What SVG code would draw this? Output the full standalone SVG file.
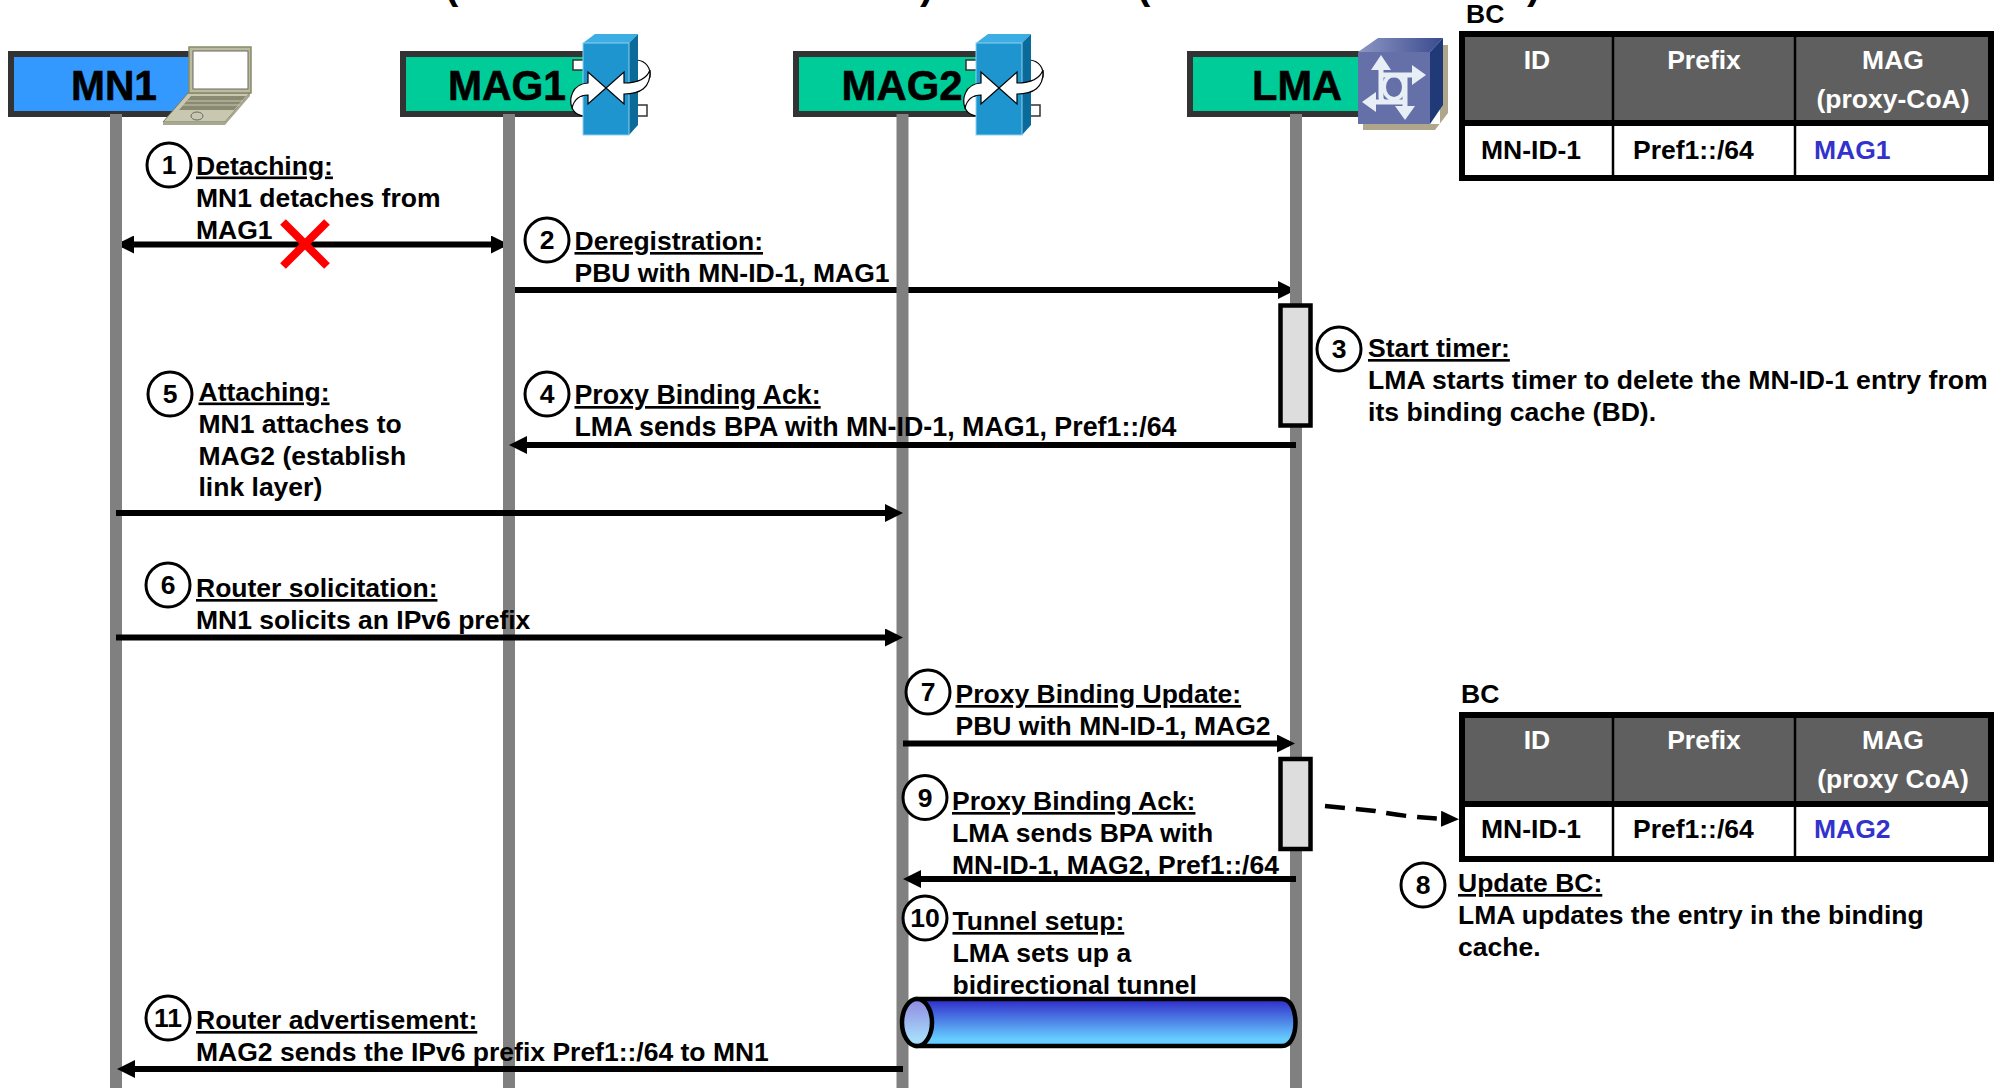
<svg xmlns="http://www.w3.org/2000/svg" xmlns:xlink="http://www.w3.org/1999/xlink" width="1995" height="1088" viewBox="0 0 1995 1088">
<style>
text{font-family:"Liberation Sans",Arial,sans-serif;font-weight:bold;fill:#000}
.b{font-size:26.5px}
.u{text-decoration:underline}
.n{font-size:26.5px;text-anchor:middle}
.h{font-size:43px;text-anchor:middle;stroke:#000;stroke-width:0.6px}
.th{font-size:26.5px;text-anchor:middle;fill:#fff}
.td{font-size:26.5px}
.mag{fill:#3333cc}
.c{fill:#fff;stroke:#000;stroke-width:3}
.life{stroke:#808080;stroke-width:12}
.hdr{stroke:#333;stroke-width:6}
.ar{stroke:#000;stroke-width:6;fill:none}
.act{fill:#ddd;stroke:#000;stroke-width:4.500}
.tline{stroke:#000;fill:none}
.par{font-size:40px}
</style>
<defs>
<marker id="ah" viewBox="0 0 18 18" refX="12" refY="9" markerWidth="18" markerHeight="18" markerUnits="userSpaceOnUse" orient="auto-start-reverse"><path d="M0 0L18 9L0 18Z" fill="#000"/></marker>
<marker id="ahs" viewBox="0 0 18 16" refX="12" refY="8" markerWidth="18" markerHeight="16" markerUnits="userSpaceOnUse" orient="auto"><path d="M0 0L18 8L0 16Z" fill="#000"/></marker>
<linearGradient id="tun" x1="0" y1="0" x2="0" y2="1"><stop offset="0.05" stop-color="#3333cc"/><stop offset="0.85" stop-color="#66ccff"/></linearGradient>
<linearGradient id="tune" x1="0" y1="0" x2="0" y2="1"><stop offset="0" stop-color="#8f88e0"/><stop offset="0.85" stop-color="#a6dcfa"/></linearGradient>
<linearGradient id="lmat" x1="0" y1="0" x2="1" y2="0"><stop offset="0" stop-color="#8d97c4"/><stop offset="1" stop-color="#3a4a8e"/></linearGradient>
<g id="sw">
<rect x="573" y="60" width="12" height="10" fill="#fff" stroke="#333" stroke-width="1.500"/>
<rect x="636" y="105" width="11" height="11" fill="#fff" stroke="#333" stroke-width="1.500"/>
<path d="M572 100C570 108 574 115 584 116L584 96C578 96 574 97 572 100Z" fill="#fff" stroke="#000" stroke-width="1.200"/>
<path d="M650 77C651 68 646 61 637 60L637 83C644 83 648 81 650 77Z" fill="#fff" stroke="#000" stroke-width="1.200"/>
<path d="M583 43L595 34L638 34L629 43Z" fill="#3daee3"/>
<path d="M629 43L638 34L638 125L629 135Z" fill="#0a6a9a"/>
<rect x="583" y="43" width="46" height="92" fill="#1f95d0" stroke="#8fd0ee" stroke-width="1"/>
<path d="M606 88L588 104L588 95C578 95 574 100 572 108C569 100 571 84 588 83L588 72Z" fill="#fff" stroke="#000" stroke-width="1.200"/>
<path d="M606 88L624 104L624 94C640 94 651 88 650 70C647 78 640 83 624 83L624 72Z" fill="#fff" stroke="#000" stroke-width="1.200"/>
</g>
</defs>

<text class="par" x="445" y="-1">(</text>
<text class="par" x="920" y="-1">)</text>
<text class="par" x="1137" y="-1">(</text>
<text class="par" x="1527" y="-1">)</text>

<g id="node-mn1">
<rect class="hdr" x="11" y="54" width="190" height="60" fill="#3399ff"/>
<text class="h" x="114" y="100" textLength="86" lengthAdjust="spacingAndGlyphs">MN1</text>
<path d="M163 122L188 93L250 93L225 122Z" fill="#c8c8b0" stroke="#77775f" stroke-width="1"/>
<path d="M163 122L225 122L225 125L163 125Z" fill="#a8a890"/>
<path d="M225 122L250 93L250 96L225 125Z" fill="#a8a890"/>
<rect x="189" y="47" width="62" height="46" fill="#bcbc9c" stroke="#88886c" stroke-width="1.500"/>
<rect x="193" y="51" width="55" height="38" fill="#fff" stroke="#666" stroke-width="1"/>
<path d="M179 110L191 96L246 96L234 110Z" fill="#8a8a72"/>
<path d="M187 101L243 101M183 105L240 105" stroke="#c8c8b0" stroke-width="1"/>
<ellipse cx="197" cy="116" rx="6" ry="4" fill="none" stroke="#666" stroke-width="1"/>
</g>
<g id="node-mag1">
<rect class="hdr" x="403" y="54" width="190" height="60" fill="#00cc99"/>
<text class="h" x="507" y="100" textLength="118" lengthAdjust="spacingAndGlyphs">MAG1</text>
<use xlink:href="#sw" href="#sw"/>
</g>
<g id="node-mag2">
<rect class="hdr" x="796" y="54" width="190" height="60" fill="#00cc99"/>
<text class="h" x="902" y="100" textLength="121" lengthAdjust="spacingAndGlyphs">MAG2</text>
<use xlink:href="#sw" href="#sw" x="393"/>
</g>
<g id="node-lma">
<rect class="hdr" x="1190" y="54" width="180" height="60" fill="#00cc99"/>
<text class="h" x="1297" y="100" textLength="90" lengthAdjust="spacingAndGlyphs">LMA</text>
<path d="M1363 124L1363 130L1435 130L1448 113L1448 45L1440 45L1440 124Z" fill="#b0a68c"/>
<path d="M1358 52L1378 38L1443 38L1430 52Z" fill="url(#lmat)"/>
<path d="M1430 52L1443 38L1443 105L1430 124Z" fill="#203a78"/>
<rect x="1358" y="52" width="72" height="72" fill="#6670a8"/>
<g stroke="#e8eef5" fill="none" stroke-width="5">
<path d="M1381 62V97Q1381 102 1386 102H1400M1381 75H1418M1405 75V113M1368 102H1405"/>
<ellipse cx="1394" cy="87" rx="10" ry="12" stroke-width="4"/>
</g>
<g fill="#e8eef5">
<path d="M1381 55L1391 70L1371 70Z"/><path d="M1426 75L1412 85L1412 65Z"/><path d="M1362 102L1376 92L1376 112Z"/><path d="M1405 120L1395 106L1415 106Z"/>
</g>
</g>

<g id="connectors-under">
<line class="ar" x1="122" y1="244.500" x2="503" y2="244.500" marker-start="url(#ah)" marker-end="url(#ah)"/>
<line class="ar" x1="515" y1="290" x2="1290" y2="290" marker-end="url(#ah)"/>
</g>

<g id="lifelines">
<line class="life" x1="116" y1="114" x2="116" y2="1088"/>
<line class="life" x1="509" y1="114" x2="509" y2="1088"/>
<line class="life" x1="902.500" y1="114" x2="902.500" y2="1088"/>
<line class="life" x1="1296" y1="114" x2="1296" y2="1088"/>
</g>

<g id="connectors">
<line class="ar" x1="1296" y1="445" x2="515" y2="445" marker-end="url(#ah)"/>
<line class="ar" x1="116" y1="513" x2="897" y2="513" marker-end="url(#ah)"/>
<line class="ar" x1="116" y1="637.500" x2="897" y2="637.500" marker-end="url(#ah)"/>
<line class="ar" x1="903" y1="743.500" x2="1289" y2="743.500" marker-end="url(#ah)"/>
<line class="ar" x1="1296" y1="879" x2="909" y2="879" marker-end="url(#ah)"/>
<line class="ar" x1="903" y1="1069" x2="123" y2="1069" marker-end="url(#ah)"/>
<path d="M1325 806L1375 811Q1410 818 1453 819" stroke="#000" stroke-width="4.500" fill="none" stroke-dasharray="20 11" marker-end="url(#ahs)"/>
</g>

<g id="activations">
<rect class="act" x="1280.500" y="305.500" width="30" height="120"/>
<rect class="act" x="1280.500" y="759" width="30" height="90"/>
</g>

<g id="tunnel">
<path d="M917 999H1282C1300 999 1300 1046 1282 1046H917Z" fill="url(#tun)" stroke="#000" stroke-width="4.500"/>
<ellipse cx="917" cy="1022.500" rx="15" ry="23.500" fill="url(#tune)" stroke="#000" stroke-width="4.500"/>
</g>

<g id="cross">
<path d="M283 222L327 266M327 222L283 266" stroke="#ff0000" stroke-width="8" fill="none"/>
</g>

<g id="step-1"><ellipse class="c" cx="169" cy="165" rx="22" ry="22"/><text class="n" x="169" y="174">1</text>
<text class="b"><tspan class="u" x="196" y="174.500">Detaching:</tspan><tspan x="196" y="206.500">MN1 detaches from</tspan><tspan x="196" y="238.500">MAG1</tspan></text></g>
<g id="step-2"><ellipse class="c" cx="547" cy="240" rx="22" ry="22"/><text class="n" x="547" y="249">2</text>
<text class="b"><tspan class="u" x="574.500" y="250">Deregistration:</tspan><tspan x="574.500" y="282">PBU with MN-ID-1, MAG1</tspan></text></g>
<g id="step-3"><ellipse class="c" cx="1339" cy="349" rx="22" ry="22"/><text class="n" x="1339" y="358">3</text>
<text class="b" style="font-size:26.600px"><tspan class="u" x="1368" y="357">Start timer:</tspan><tspan x="1368" y="389">LMA starts timer to delete the MN-ID-1 entry from</tspan><tspan x="1368" y="421">its binding cache (BD).</tspan></text></g>
<g id="step-4"><ellipse class="c" cx="547" cy="394" rx="22" ry="22"/><text class="n" x="547" y="403">4</text>
<text class="b" style="font-size:26.800px"><tspan class="u" x="574.500" y="404">Proxy Binding Ack:</tspan><tspan x="574.500" y="436">LMA sends BPA with MN-ID-1, MAG1, Pref1::/64</tspan></text></g>
<g id="step-5"><ellipse class="c" cx="170" cy="394" rx="22" ry="22"/><text class="n" x="170" y="403">5</text>
<text class="b"><tspan class="u" x="198.500" y="400.500">Attaching:</tspan><tspan x="198.500" y="432.500">MN1 attaches to</tspan><tspan x="198.500" y="464.500">MAG2 (establish</tspan><tspan x="198.500" y="496">link layer)</tspan></text></g>
<g id="step-6"><ellipse class="c" cx="168" cy="585" rx="22" ry="22"/><text class="n" x="168" y="594">6</text>
<text class="b"><tspan class="u" x="196" y="597">Router solicitation:</tspan><tspan x="196" y="629">MN1 solicits an IPv6 prefix</tspan></text></g>
<g id="step-7"><ellipse class="c" cx="928" cy="692" rx="22" ry="22"/><text class="n" x="928" y="701">7</text>
<text class="b"><tspan class="u" x="955.500" y="703">Proxy Binding Update:</tspan><tspan x="955.500" y="735">PBU with MN-ID-1, MAG2</tspan></text></g>
<g id="step-8"><ellipse class="c" cx="1423" cy="885" rx="22" ry="22"/><text class="n" x="1423" y="894">8</text>
<text class="b"><tspan class="u" x="1458" y="892">Update BC:</tspan><tspan x="1458" y="924">LMA updates the entry in the binding</tspan><tspan x="1458" y="956">cache.</tspan></text></g>
<g id="step-9"><ellipse class="c" cx="925" cy="797.500" rx="22" ry="22"/><text class="n" x="925" y="807">9</text>
<text class="b"><tspan class="u" x="952" y="810">Proxy Binding Ack:</tspan><tspan x="952" y="842">LMA sends BPA with</tspan><tspan x="952" y="874">MN-ID-1, MAG2, Pref1::/64</tspan></text></g>
<g id="step-10"><ellipse class="c" cx="925" cy="918" rx="22" ry="22"/><text class="n" x="925" y="927">10</text>
<text class="b"><tspan class="u" x="952.500" y="930">Tunnel setup:</tspan><tspan x="952.500" y="962">LMA sets up a</tspan><tspan x="952.500" y="994">bidirectional tunnel</tspan></text></g>
<g id="step-11"><ellipse class="c" cx="168" cy="1018" rx="22" ry="22"/><text class="n" x="168" y="1027">11</text>
<text class="b"><tspan class="u" x="196" y="1029">Router advertisement:</tspan><tspan x="196" y="1060.500">MAG2 sends the IPv6 prefix Pref1::/64 to MN1</tspan></text></g>

<g id="table-1">
<text class="td" x="1466" y="23">BC</text>
<rect x="1462" y="34" width="529" height="144" fill="#fff" stroke="#000" stroke-width="6"/>
<rect x="1465" y="37" width="523" height="84" fill="#5f5f5f"/>
<path class="tline" d="M1462 123H1991" stroke-width="6"/>
<path class="tline" d="M1613 34V178M1795 34V178" stroke-width="2.500"/>
<text class="th" x="1537" y="69">ID</text><text class="th" x="1704" y="69">Prefix</text><text class="th" x="1893" y="69">MAG</text><text class="th" x="1893" y="108">(proxy-CoA)</text>
<text class="td" x="1481" y="159">MN-ID-1</text><text class="td" x="1633" y="159">Pref1::/64</text><text class="td mag" x="1814" y="159">MAG1</text>
</g>
<g id="table-2">
<text class="td" x="1461" y="703">BC</text>
<rect x="1462" y="715" width="529" height="144" fill="#fff" stroke="#000" stroke-width="6"/>
<rect x="1465" y="718" width="523" height="84" fill="#5f5f5f"/>
<path class="tline" d="M1462 804H1991" stroke-width="6"/>
<path class="tline" d="M1613 715V859M1795 715V859" stroke-width="2.500"/>
<text class="th" x="1537" y="749">ID</text><text class="th" x="1704" y="749">Prefix</text><text class="th" x="1893" y="749">MAG</text><text class="th" x="1893" y="788">(proxy CoA)</text>
<text class="td" x="1481" y="838">MN-ID-1</text><text class="td" x="1633" y="838">Pref1::/64</text><text class="td mag" x="1814" y="838">MAG2</text>
</g>
</svg>
